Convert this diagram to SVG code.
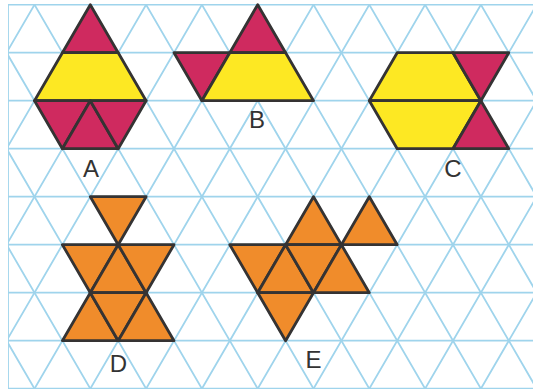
<svg xmlns="http://www.w3.org/2000/svg" width="533" height="389" viewBox="0 0 533 389">
<style>
.grid{stroke:#9fd4ec;stroke-width:1.8;fill:none}
.p{stroke:#353333;stroke-width:2.8;stroke-linejoin:round}
.r{fill:#cf2a5f}
.y{fill:#fde823}
.o{fill:#f08c2b}
.lbl{font-family:"Liberation Sans","DejaVu Sans",sans-serif;font-size:24px;fill:#333;text-anchor:middle}
</style>
<defs>
<clipPath id="gc"><rect x="8" y="4" width="526" height="386"/></clipPath>
</defs>
<rect width="533" height="389" fill="#ffffff"/>
<g id="grid" class="grid" clip-path="url(#gc)">
<path d="M8 4.7H533M8 52.7H533M8 100.7H533M8 148.7H533M8 196.7H533M8 244.7H533M8 292.7H533M8 340.7H533M8 388.7H533M8 4.7V389"/>
<path d="M-216.6 -43.3L62.4 436.7M-160.8 -43.3L118.2 436.7M-105 -43.3L174 436.7M-49.2 -43.3L229.8 436.7M6.6 -43.3L285.6 436.7M62.4 -43.3L341.4 436.7M118.2 -43.3L397.2 436.7M174 -43.3L453 436.7M229.8 -43.3L508.8 436.7M285.6 -43.3L564.6 436.7M341.4 -43.3L620.4 436.7M397.2 -43.3L676.2 436.7M453 -43.3L732 436.7"/>
<path d="M62.4 -43.3L-216.6 436.7M118.2 -43.3L-160.8 436.7M174 -43.3L-105 436.7M229.8 -43.3L-49.2 436.7M285.6 -43.3L6.6 436.7M341.4 -43.3L62.4 436.7M397.2 -43.3L118.2 436.7M453 -43.3L174 436.7M508.8 -43.3L229.8 436.7M564.6 -43.3L285.6 436.7M620.4 -43.3L341.4 436.7M676.2 -43.3L397.2 436.7M732 -43.3L453 436.7"/>
</g>
<g id="shapeA">
<polygon class="p r" points="90.3,4.7 118.2,52.7 62.4,52.7"/>
<polygon class="p y" points="62.4,52.7 118.2,52.7 146.1,100.7 34.5,100.7"/>
<polygon class="p r" points="34.5,100.7 90.3,100.7 62.4,148.7"/>
<polygon class="p r" points="90.3,100.7 118.2,148.7 62.4,148.7"/>
<polygon class="p r" points="90.3,100.7 146.1,100.7 118.2,148.7"/>
<text class="lbl" x="91" y="176.5">A</text>
</g>
<g id="shapeB">
<polygon class="p r" points="257.7,4.7 285.6,52.7 229.8,52.7"/>
<polygon class="p r" points="174,52.7 229.8,52.7 201.9,100.7"/>
<polygon class="p y" points="229.8,52.7 285.6,52.7 313.5,100.7 201.9,100.7"/>
<text class="lbl" x="257" y="128">B</text>
</g>
<g id="shapeC">
<polygon class="p y" points="397.2,52.7 453,52.7 480.9,100.7 369.3,100.7"/>
<polygon class="p y" points="369.3,100.7 480.9,100.7 453,148.7 397.2,148.7"/>
<polygon class="p r" points="453,52.7 508.8,52.7 480.9,100.7"/>
<polygon class="p r" points="480.9,100.7 508.8,148.7 453,148.7"/>
<text class="lbl" x="453" y="176.5">C</text>
</g>
<g id="shapeD">
<polygon class="p o" points="90.3,196.7 146.1,196.7 118.2,244.7"/>
<polygon class="p o" points="62.4,244.7 118.2,244.7 90.3,292.7"/>
<polygon class="p o" points="118.2,244.7 146.1,292.7 90.3,292.7"/>
<polygon class="p o" points="118.2,244.7 174,244.7 146.1,292.7"/>
<polygon class="p o" points="90.3,292.7 118.2,340.7 62.4,340.7"/>
<polygon class="p o" points="90.3,292.7 146.1,292.7 118.2,340.7"/>
<polygon class="p o" points="146.1,292.7 174,340.7 118.2,340.7"/>
<text class="lbl" x="118.5" y="371.5">D</text>
</g>
<g id="shapeE">
<polygon class="p o" points="313.5,196.7 341.4,244.7 285.6,244.7"/>
<polygon class="p o" points="369.3,196.7 397.2,244.7 341.4,244.7"/>
<polygon class="p o" points="229.8,244.7 285.6,244.7 257.7,292.7"/>
<polygon class="p o" points="285.6,244.7 313.5,292.7 257.7,292.7"/>
<polygon class="p o" points="285.6,244.7 341.4,244.7 313.5,292.7"/>
<polygon class="p o" points="341.4,244.7 369.3,292.7 313.5,292.7"/>
<polygon class="p o" points="257.7,292.7 313.5,292.7 285.6,340.7"/>
<text class="lbl" x="313.5" y="368">E</text>
</g>
</svg>
